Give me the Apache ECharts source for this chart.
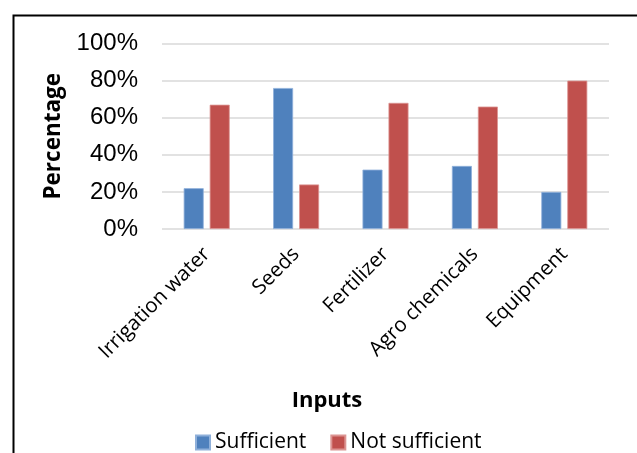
<!DOCTYPE html>
<html>
<head>
<meta charset="utf-8">
<script src="https://cdn.jsdelivr.net/npm/echarts@6/dist/echarts.min.js"></script>
<style>html,body{margin:0;padding:0;background:#fff;}#c{width:637px;height:453px;}</style>
</head>
<body>
<div id="c"></div>
<script>
const categories = ['Irrigation water', 'Seeds', 'Fertilizer', 'Agro chemicals', 'Equipment'];
const sufficient = [22, 76, 32, 34, 20];
const notSufficient = [67, 24, 68, 66, 80];
const yTicks = [0, 20, 40, 60, 80, 100];

const chart = echarts.init(document.getElementById('c'), null, {renderer: 'canvas'});
chart.setOption({
  animation: false,
  backgroundColor: '#fff',
  title: {
    text: 'Inputs',
    left: 322, top: 385,
    textAlign: 'center',
    textStyle: {fontFamily: 'Open Sans', fontWeight: 'bold', fontSize: 22, color: '#000'}
  },
  legend: {
    left: 190, top: 427,
    itemWidth: 14, itemHeight: 14, itemGap: 24,
    icon: 'rect',
    textStyle: {fontFamily: 'Open Sans', fontSize: 21, color: '#000'},
    data: ['Sufficient', 'Not sufficient']
  },
  graphic: [{
    type: 'rect', left: 11, top: 13,
    shape: {width: 700, height: 500},
    style: {fill: 'none', stroke: '#000', lineWidth: 2}
  }],
  grid: {left: 162, right: 28, top: 43.5, bottom: 224, containLabel: false},
  xAxis: {
    type: 'category',
    data: categories,
    axisLine: {show: false},
    axisTick: {show: false},
    axisLabel: {rotate: 45, margin: 22, fontFamily: 'Open Sans', fontSize: 20.5, color: '#000', interval: 0}
  },
  yAxis: {
    type: 'value',
    min: 0, max: 100, interval: 20,
    name: 'Percentage',
    nameLocation: 'middle',
    nameGap: 97,
    nameTextStyle: {fontFamily: 'Open Sans', fontWeight: 'bold', fontSize: 22.5, color: '#000'},
    axisLabel: {
      margin: 24, fontFamily: 'Liberation Sans', fontSize: 24, color: '#000',
      formatter: v => yTicks.includes(v) ? v + '%' : ''
    },
    splitLine: {lineStyle: {color: '#d9d9d9', width: 1.5}},
    axisLine: {show: false}, axisTick: {show: false}
  },
  series: [
    {name: 'Sufficient', type: 'bar', data: sufficient, barWidth: 20, barGap: '30%',
     itemStyle: {color: '#4F81BD', borderColor: '#8fb0da', borderWidth: 0.8}},
    {name: 'Not sufficient', type: 'bar', data: notSufficient, barWidth: 20,
     itemStyle: {color: '#C0504D', borderColor: '#dc9492', borderWidth: 0.8}}
  ]
});
</script>
</body>
</html>
